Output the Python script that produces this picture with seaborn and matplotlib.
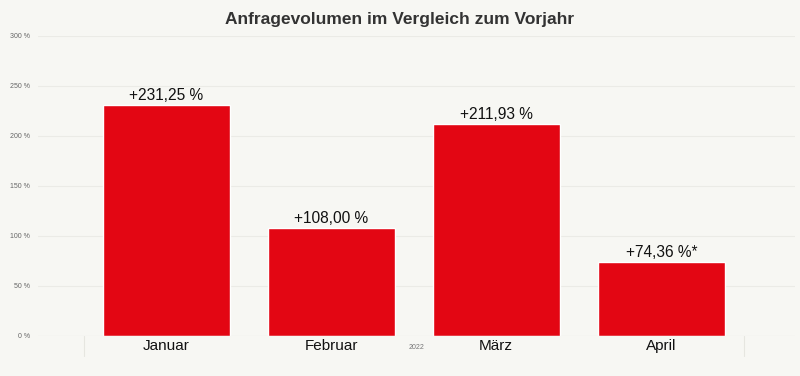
import matplotlib
matplotlib.use("Agg")
import matplotlib.pyplot as plt
import seaborn as sns
import pandas as pd

monate = ["Januar", "Februar", "März", "April"]
werte = [231.25, 108.00, 211.93, 74.36]
beschriftungen = ["+231,25 %", "+108,00 %", "+211,93 %", "+74,36 %*"]
y_ticks = [0, 50, 100, 150, 200, 250, 300]

sns.set_theme(style="white")
plt.rcParams['font.family'] = ['Liberation Sans', 'DejaVu Sans']

hintergrund = "#f7f7f3"
rot = "#e30613"

df = pd.DataFrame({"Monat": monate, "Wert": werte})

fig = plt.figure(figsize=(8, 3.76), dpi=100, facecolor=hintergrund)
ax = fig.add_axes([38 / 800, 40 / 376, 757 / 800, 300 / 376])
ax.set_facecolor(hintergrund)

sns.barplot(data=df, x="Monat", y="Wert", color=rot, width=0.77, saturation=1, ax=ax)

ax.set_ylim(0, 300)
ax.set_xlim(-0.776, 3.81)
ax.set_yticks(y_ticks)
ax.set_yticklabels([f"{v} %" for v in y_ticks], fontsize=5, color="#666666")
ax.tick_params(axis="x", labelsize=11, colors="#111111", pad=2, length=0)
ax.tick_params(axis="y", length=0, pad=6)
for lbl in ax.get_xticklabels():
    lbl.set_family(["Liberation Sans Narrow", "Liberation Sans", "DejaVu Sans"])
ax.grid(axis="y", color="#ebebe6", linewidth=0.8)
ax.set_axisbelow(True)
for s in ax.spines.values():
    s.set_visible(False)
ax.set_xlabel("2022", fontsize=5, color="#777777", labelpad=-6)
ax.set_ylabel("")

for i, (w, t) in enumerate(zip(werte, beschriftungen)):
    ax.text(i, w + 2, t, ha="center", va="bottom", fontsize=11.2, color="#111111")

# dünne Rahmenlinien unter der Achse
ax.axhline(0, color="#e6e6e0", linewidth=0.8)
for xv in [-0.5, 3.5]:
    ax.plot([xv, xv], [0, -0.065], transform=ax.get_xaxis_transform(), color="#e6e6e0", linewidth=0.8, clip_on=False)

fig.text(0.5, 0.948, "Anfragevolumen im Vergleich zum Vorjahr", ha="center", va="center",
         fontsize=12.5, fontweight="bold", color="#333333")

fig.savefig("out.png", dpi=100, facecolor=hintergrund)
